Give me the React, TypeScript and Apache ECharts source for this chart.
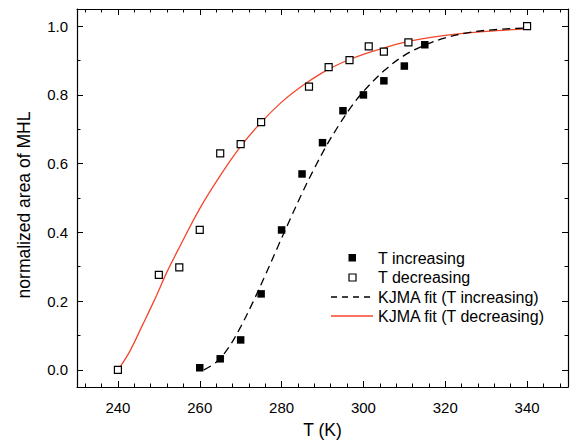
import React, { useEffect, useRef } from "react";
import * as echarts from "echarts";

// Measured data (T in K, normalized area of MHL)
const incT = [260, 265, 270, 275, 280, 285, 290, 295, 300, 305, 310, 315, 340];
const incY = [0.006, 0.032, 0.087, 0.221, 0.407, 0.570, 0.661, 0.754, 0.800, 0.841, 0.884, 0.946, 1.0];

const decT = [240, 250, 255, 260, 265, 270, 275, 286.7, 291.5, 296.6, 301.3, 305, 311, 340];
const decY = [0.0, 0.276, 0.298, 0.407, 0.630, 0.657, 0.721, 0.824, 0.881, 0.901, 0.941, 0.926, 0.953, 1.0];

// KJMA fit curves
const fitIncT = [261, 264, 267, 270, 273, 276, 279, 282, 285, 288, 291, 294, 297, 300, 305, 310, 315, 320, 325, 330, 340];
const fitIncY = [0.0, 0.022, 0.064, 0.125, 0.197, 0.275, 0.356, 0.436, 0.514, 0.586, 0.653, 0.712, 0.765, 0.81, 0.87, 0.915, 0.945, 0.966, 0.98, 0.988, 0.995];

const fitDecT = [240.5, 243, 246, 249, 252, 255, 260, 265, 270, 275, 280, 285, 290, 295, 300, 310, 320, 330, 340];
const fitDecY = [0.008, 0.056, 0.13, 0.205, 0.285, 0.356, 0.469, 0.565, 0.65, 0.72, 0.779, 0.826, 0.865, 0.895, 0.918, 0.953, 0.973, 0.985, 0.992];

const xMajor = [240, 260, 280, 300, 320, 340];
const xMinor = [232, 236, 244, 248, 252, 256, 264, 268, 272, 276, 284, 288, 292, 296, 304, 308, 312, 316, 324, 328, 332, 336, 344, 348];
const yMajor = [0, 0.2, 0.4, 0.6, 0.8, 1.0];
const yMinor = [0.1, 0.3, 0.5, 0.7, 0.9];

const legendNames = ["T increasing", "T decreasing", "KJMA fit (T increasing)", "KJMA fit (T decreasing)"];

const FONT = "'Liberation Sans', Arial, Helvetica, sans-serif";
const RED = "#f4472b";

const zip = (a: number[], b: number[]) => a.map((v, i) => [v, b[i]]);

export default function App() {
  const ref = useRef<HTMLDivElement>(null);
  useEffect(() => {
    if (!ref.current) return;
    const chart = echarts.init(ref.current, undefined, { renderer: "svg" });
    const lineStyle = { color: "#000", width: 1.2 };
    const xBase = { type: "value", min: 230, max: 350, gridIndex: 0, splitLine: { show: false } };
    const yBase = { type: "value", min: -0.05, max: 1.05, gridIndex: 0, splitLine: { show: false } };
    const tick = (vals: number[], len: number) => ({
      show: true, inside: true, length: len, customValues: vals, lineStyle: { color: "#000", width: 1 },
    });
    const noLabel = (vals: number[]) => ({ show: false, customValues: vals });
    const line = (show: boolean) => ({ show, onZero: false, lineStyle });

    chart.setOption({
      animation: false,
      backgroundColor: "#fff",
      textStyle: { fontFamily: FONT },
      grid: { left: 77, top: 9, right: 2, bottom: 58, containLabel: false },
      xAxis: [
        {
          ...xBase, position: "bottom",
          axisLine: line(true),
          axisTick: tick(xMajor, 6),
          axisLabel: { show: true, customValues: xMajor, fontSize: 15, color: "#000", margin: 13, fontFamily: FONT },
          name: "T (K)", nameLocation: "middle", nameGap: 34,
          nameTextStyle: { fontSize: 17.5, color: "#000", fontFamily: FONT },
        },
        { ...xBase, position: "bottom", axisLine: line(false), axisTick: tick(xMinor, 3.5), axisLabel: noLabel(xMinor) },
        { ...xBase, position: "top", axisLine: line(true), axisTick: tick(xMajor, 6), axisLabel: noLabel(xMajor) },
        { ...xBase, position: "top", axisLine: line(false), axisTick: tick(xMinor, 3.5), axisLabel: noLabel(xMinor) },
      ],
      yAxis: [
        {
          ...yBase, position: "left",
          axisLine: line(true),
          axisTick: tick(yMajor, 6),
          axisLabel: {
            show: true, customValues: yMajor, fontSize: 15, color: "#000", margin: 9, fontFamily: FONT,
            formatter: (v: number) => v.toFixed(1),
          },
          name: "normalized area of MHL", nameLocation: "middle", nameGap: 44,
          nameTextStyle: { fontSize: 17.5, color: "#000", fontFamily: FONT, padding: [0, 14, 0, 0] },
        },
        { ...yBase, position: "left", axisLine: line(false), axisTick: tick(yMinor, 3.5), axisLabel: noLabel(yMinor) },
        { ...yBase, position: "right", axisLine: line(true), axisTick: tick(yMajor, 6), axisLabel: noLabel(yMajor) },
        { ...yBase, position: "right", axisLine: line(false), axisTick: tick(yMinor, 3.5), axisLabel: noLabel(yMinor) },
      ],
      series: [
        {
          name: legendNames[3], type: "line", data: zip(fitDecT, fitDecY), smooth: 0.35, showSymbol: false,
          lineStyle: { color: RED, width: 1.3 }, z: 2,
        },
        {
          name: legendNames[2], type: "line", data: zip(fitIncT, fitIncY), smooth: 0.35, showSymbol: false,
          lineStyle: { color: "#000", width: 1.3, type: [8, 5] }, z: 2,
        },
        {
          name: legendNames[0], type: "scatter", data: zip(incT, incY), symbol: "rect", symbolSize: 7.5,
          itemStyle: { color: "#000", opacity: 1 }, z: 3,
        },
        {
          name: legendNames[1], type: "scatter", data: zip(decT, decY), symbol: "rect", symbolSize: 7,
          itemStyle: { color: "#fff", borderColor: "#000", borderWidth: 1.2, opacity: 1 }, z: 4,
        },
      ],
      graphic: [
        { type: "rect", shape: { x: 348.5, y: 254, width: 7.5, height: 7.5 }, style: { fill: "#000" } },
        { type: "text", x: 378, y: 258, style: { text: legendNames[0], fontSize: 16, fontFamily: FONT, fill: "#000", verticalAlign: "middle" } },
        { type: "rect", shape: { x: 349, y: 274, width: 7, height: 7 }, style: { fill: "#fff", stroke: "#000", lineWidth: 1.2 } },
        { type: "text", x: 378, y: 277.5, style: { text: legendNames[1], fontSize: 16, fontFamily: FONT, fill: "#000", verticalAlign: "middle" } },
        { type: "line", shape: { x1: 331, y1: 297, x2: 372, y2: 297 }, style: { stroke: "#000", lineWidth: 1.3, lineDash: [6, 5] } },
        { type: "text", x: 378, y: 297, style: { text: legendNames[2], fontSize: 16, fontFamily: FONT, fill: "#000", verticalAlign: "middle" } },
        { type: "line", shape: { x1: 331, y1: 316, x2: 373, y2: 316 }, style: { stroke: RED, lineWidth: 1.3 } },
        { type: "text", x: 378, y: 316.5, style: { text: legendNames[3], fontSize: 16, fontFamily: FONT, fill: "#000", verticalAlign: "middle" } },
      ],
    });
    return () => chart.dispose();
  }, []);
  return <div ref={ref} style={{ width: 570, height: 445, position: "fixed", left: 0, top: 0 }} />;
}
